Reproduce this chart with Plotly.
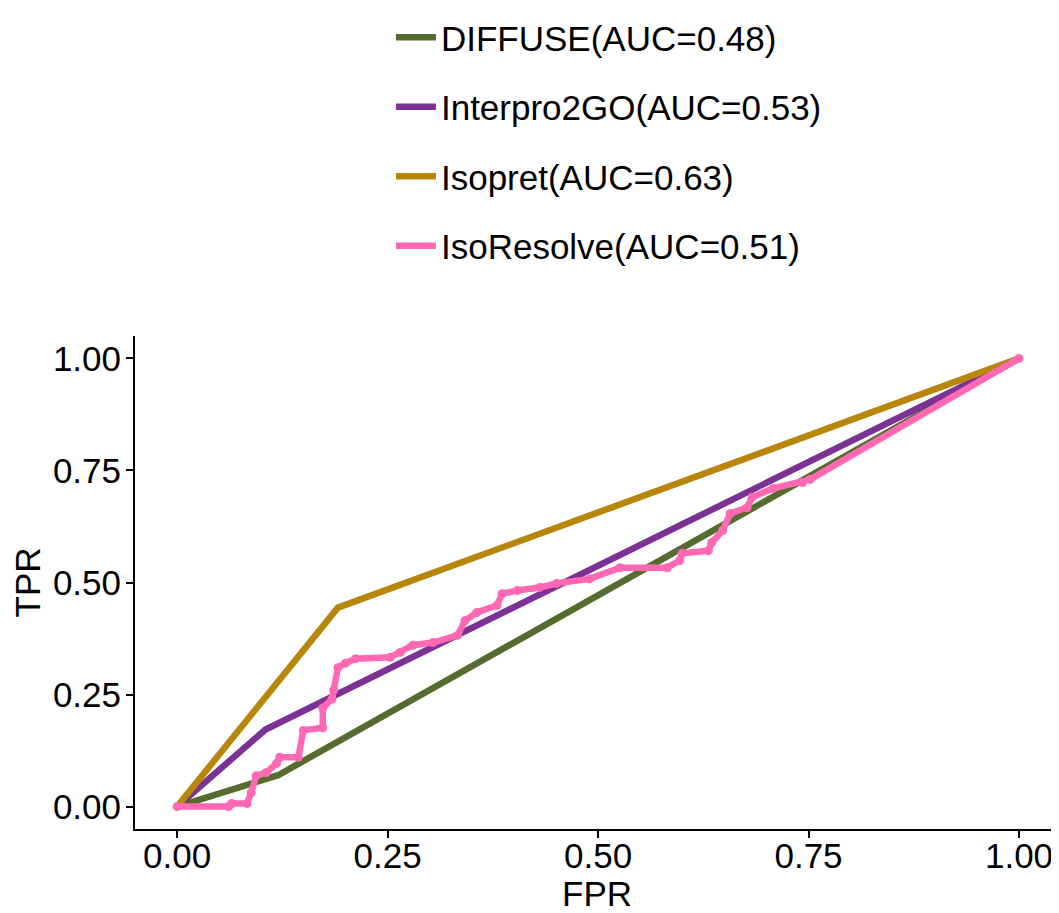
import plotly.graph_objects as go

# ---- data ----
diffuse_fpr = [0.0, 0.12, 1.0]
diffuse_tpr = [0.0, 0.07, 1.0]

interpro_fpr = [0.0, 0.105, 1.0]
interpro_tpr = [0.0, 0.172, 1.0]

isopret_fpr = [0.0, 0.191, 1.0]
isopret_tpr = [0.0, 0.444, 1.0]

isoresolve_fpr = [0.0, 0.061, 0.065, 0.083, 0.088, 0.094, 0.106, 0.118, 0.122, 0.144,
                  0.15, 0.173, 0.173, 0.184, 0.186, 0.191, 0.2, 0.212, 0.253, 0.265,
                  0.28, 0.304, 0.333, 0.342, 0.356, 0.38, 0.386, 0.404, 0.431, 0.451,
                  0.49, 0.526, 0.582, 0.597, 0.600, 0.631, 0.635, 0.648, 0.657, 0.677,
                  0.683, 0.708, 0.743, 0.752, 1.0]
isoresolve_tpr = [0.0, 0.0, 0.007, 0.007, 0.031, 0.069, 0.076, 0.096, 0.11, 0.11,
                  0.17, 0.176, 0.22, 0.24, 0.26, 0.31, 0.32, 0.33, 0.333, 0.344,
                  0.36, 0.366, 0.382, 0.415, 0.433, 0.449, 0.475, 0.482, 0.489, 0.498,
                  0.508, 0.533, 0.533, 0.549, 0.565, 0.571, 0.589, 0.616, 0.654, 0.667,
                  0.69, 0.71, 0.723, 0.73, 1.0]

names = ["DIFFUSE(AUC=0.48)", "Interpro2GO(AUC=0.53)", "Isopret(AUC=0.63)", "IsoResolve(AUC=0.51)"]
colors = ["#556B2F", "#7B3294", "#B8860B", "#FF69B4"]
x_ticks = [0.0, 0.25, 0.5, 0.75, 1.0]
x_tick_text = ["0.00", "0.25", "0.50", "0.75", "1.00"]
y_ticks = [0.0, 0.25, 0.5, 0.75, 1.0]
y_tick_text = ["0.00", "0.25", "0.50", "0.75", "1.00"]

FONT = "Liberation Sans, Arial, sans-serif"
FS = 35
LW = 6.5

fig = go.Figure()
series = [(diffuse_fpr, diffuse_tpr), (interpro_fpr, interpro_tpr),
          (isopret_fpr, isopret_tpr), (isoresolve_fpr, isoresolve_tpr)]
for i, (xs, ys) in enumerate(series):
    fig.add_trace(go.Scatter(x=xs, y=ys, mode="lines", name=names[i],
                             legendgroup=f"g{i}",
                             line=dict(color=colors[i], width=LW)))
fig.add_trace(go.Scatter(x=isoresolve_fpr, y=isoresolve_tpr, mode="markers",
                         name=names[3], legendgroup="g3", showlegend=False,
                         marker=dict(color=colors[3], size=9)))

# page has an 8px body margin, so the figure is offset by 8px
fig.update_layout(
    width=1051, height=905,
    margin=dict(l=127, r=0, t=328, b=84),
    plot_bgcolor="white", paper_bgcolor="white",
    font=dict(family=FONT, size=FS, color="black"),
    showlegend=True,
    legend=dict(
        xref="paper", yref="container",
        x=0.277, y=1.0, xanchor="left", yanchor="top",
        font=dict(family=FONT, size=FS, color="black"),
        tracegroupgap=21, itemwidth=40,
        bgcolor="rgba(0,0,0,0)",
    ),
)
fig.update_xaxes(
    range=[-0.05, 1.0475], tickvals=x_ticks, ticktext=x_tick_text,
    showgrid=False, zeroline=False, showline=True, linecolor="black", linewidth=2,
    ticks="outside", ticklen=7, tickwidth=2, tickcolor="black", tickangle=0,
    ticklabelstandoff=-12, automargin=False,
    tickfont=dict(family=FONT, size=FS, color="black"),
    title=dict(text="FPR", font=dict(family=FONT, size=FS, color="black"), standoff=4),
)
fig.update_yaxes(
    range=[-0.05, 1.05], tickvals=y_ticks, ticktext=y_tick_text,
    showgrid=False, zeroline=False, showline=True, linecolor="black", linewidth=2,
    ticks="outside", ticklen=7, tickwidth=2, tickcolor="black",
    ticklabelstandoff=-2, automargin=False,
    tickfont=dict(family=FONT, size=FS, color="black"),
    title=dict(text="TPR", font=dict(family=FONT, size=FS, color="black"), standoff=13),
)

fig.write_html("out.html")
